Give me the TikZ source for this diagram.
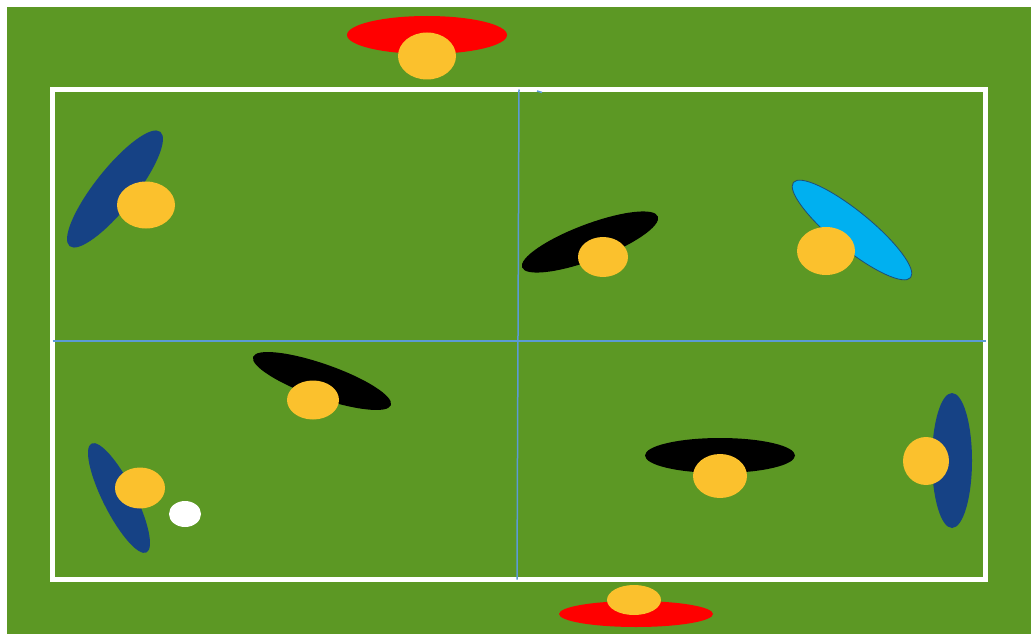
\documentclass[tikz,border=0pt]{standalone}
\usetikzlibrary{shapes.geometric}
\definecolor{PitchClr}{RGB}{92,152,36}
\definecolor{HeadClr}{RGB}{251,193,45}
\definecolor{NavyClr}{RGB}{22,66,133}
\definecolor{SkyClr}{RGB}{0,176,240}
\definecolor{SkyEdge}{RGB}{30,78,121}
\definecolor{LineClr}{RGB}{91,155,213}

\begin{document}
\begin{tikzpicture}[x=1pt,y=-1pt,
  body/.style={ellipse,inner sep=0pt,outer sep=0pt},
  head/.style={ellipse,inner sep=0pt,outer sep=0pt,fill=HeadClr}]
\useasboundingbox (0,0) rectangle (1031,634);
\fill[white] (0,0) rectangle (1031,634);
\fill[PitchClr] (7,7) rectangle (1031,634);

\draw[white,line width=5pt] (52.5,89.5) rectangle (985.5,579.5);

\coordinate (MT) at (519,89.5);
\coordinate (MB) at (517,579.5);
\coordinate (ML) at (52.5,341);
\coordinate (MR) at (985.5,341);
\draw[LineClr,line width=1.5pt] (MT) -- (MB);
\draw[LineClr,line width=1.5pt] (ML) -- (MR);
\draw[LineClr,line width=1.5pt] (537,91) -- (542,92.5);

% goalkeepers
\node[body,fill=red,minimum width=160pt,minimum height=38pt] (KT) at (427,35) {};
\node[head,minimum width=58pt,minimum height=47pt] (KTh) at (427,56) {};
\node[body,fill=red,minimum width=154pt,minimum height=26pt] (KB) at (636,614) {};
\node[head,minimum width=54pt,minimum height=30pt] (KBh) at (634,600) {};

% blue team
\node[body,fill=NavyClr,minimum width=146pt,minimum height=40pt,rotate=51.6] (B1) at (115,189) {};
\node[head,minimum width=58pt,minimum height=47pt] (B1h) at (146,205) {};
\node[body,fill=NavyClr,minimum width=122pt,minimum height=32pt,rotate=-63.2] (B2) at (119,498) {};
\node[head,minimum width=50pt,minimum height=41pt] (B2h) at (140,488) {};
\node[body,fill=NavyClr,minimum width=40pt,minimum height=135pt] (B3) at (952,460.5) {};
\node[head,minimum width=46pt,minimum height=48pt] (B3h) at (926,461) {};
\node[body,fill=SkyClr,draw=SkyEdge,line width=0.8pt,minimum width=151pt,minimum height=38pt,rotate=-39.1] (B4) at (852,230) {};
\node[head,minimum width=58pt,minimum height=48pt] (B4h) at (826,251) {};

% black team
\node[body,fill=black,minimum width=145pt,minimum height=36pt,rotate=20.6] (N1) at (590,242) {};
\node[head,minimum width=50pt,minimum height=40pt] (N1h) at (603,257) {};
\node[body,fill=black,minimum width=146pt,minimum height=34pt,rotate=-19.3] (N2) at (322,381) {};
\node[head,minimum width=52pt,minimum height=39pt] (N2h) at (313,400) {};
\node[body,fill=black,minimum width=150pt,minimum height=35pt] (N3) at (720,455.5) {};
\node[head,minimum width=54pt,minimum height=44pt] (N3h) at (720,476) {};

% ball
\node[body,fill=white,minimum width=32pt,minimum height=26pt] (ball) at (185,514) {};
\end{tikzpicture}
\end{document}
